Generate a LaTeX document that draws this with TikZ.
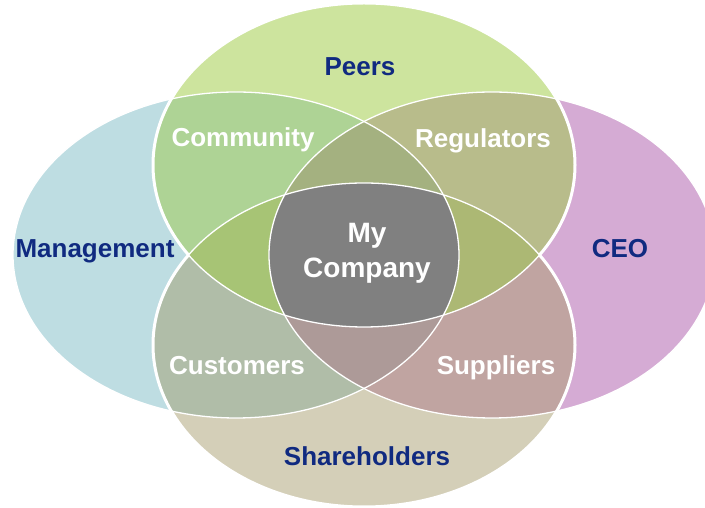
\documentclass[tikz,border=0pt]{standalone}
\usepackage{fontspec}
\setmainfont{Liberation Sans}

\definecolor{peersfill}{RGB}{205,228,158}
\definecolor{mgmtfill}{RGB}{190,221,226}
\definecolor{ceofill}{RGB}{213,171,212}
\definecolor{sharefill}{RGB}{212,207,184}
\definecolor{commfill}{RGB}{174,211,149}
\definecolor{regfill}{RGB}{184,188,139}
\definecolor{custfill}{RGB}{176,189,168}
\definecolor{suppfill}{RGB}{192,164,161}
\definecolor{topfill}{RGB}{164,177,128}
\definecolor{leftfill}{RGB}{167,196,117}
\definecolor{rightfill}{RGB}{172,184,116}
\definecolor{botfill}{RGB}{173,154,152}
\definecolor{corefill}{RGB}{128,128,128}
\definecolor{labelblue}{RGB}{16,42,128}

% the four sets
\newcommand{\peersset}{(364,343) ellipse [x radius=211, y radius=162]}
\newcommand{\shareset}{(364,163) ellipse [x radius=211, y radius=162]}
\newcommand{\mgmtset}{(236,253) ellipse [x radius=223, y radius=163]}
\newcommand{\ceoset}{(492,253) ellipse [x radius=223, y radius=163]}

\begin{document}
\begin{tikzpicture}[x=1pt,y=1pt]
        \tikzstyle{every node}=[font=\fontsize{26}{30}\selectfont\bfseries, inner sep=0pt, anchor=base]
        \tikzstyle{setlabel}=[text=labelblue]
        \tikzstyle{partlabel}=[text=white]
        \tikzstyle{rim}=[draw=white, line width=1.3]

        \useasboundingbox (0,0) rectangle (705,508);

        \fill[mgmtfill] \mgmtset;
        \fill[ceofill] \ceoset;
        \fill[peersfill] \peersset;
        \fill[sharefill] \shareset;

        % two at a time
        \begin{scope}
            \clip \peersset;
            \fill[commfill] \mgmtset;
            \fill[regfill] \ceoset;
        \end{scope}
        \begin{scope}
            \clip \shareset;
            \fill[custfill] \mgmtset;
            \fill[suppfill] \ceoset;
        \end{scope}

        % three at a time
        \begin{scope}
            \clip \mgmtset;
            \clip \ceoset;
            \fill[topfill] \peersset;
            \fill[botfill] \shareset;
        \end{scope}
        \begin{scope}
            \clip \peersset;
            \clip \shareset;
            \fill[leftfill] \mgmtset;
            \fill[rightfill] \ceoset;
        \end{scope}

        % all four
        \begin{scope}
            \clip \peersset;
            \clip \shareset;
            \clip \mgmtset;
            \fill[corefill] \ceoset;
        \end{scope}

        \draw[rim] \mgmtset;
        \draw[rim] \ceoset;
        \draw[rim] \peersset;
        \draw[rim] \shareset;
        \begin{scope}[even odd rule]
            \clip (0,0) rectangle (705,508) \shareset;
            \draw[rim, line width=3] \peersset;
        \end{scope}
        \begin{scope}[even odd rule]
            \clip (0,0) rectangle (705,508) \peersset;
            \draw[rim, line width=3] \shareset;
        \end{scope}

        \node (peers)    [setlabel] at (360,432) {Peers};
        \node (mgmt)     [setlabel] at (95,250)  {Management};
        \node (ceo)      [setlabel] at (620,250) {CEO};
        \node (share)    [setlabel] at (367,42)  {Shareholders};
        \node (comm)     [partlabel] at (243,361) {Community};
        \node (reg)      [partlabel] at (483,360) {Regulators};
        \node (cust)     [partlabel] at (237,133) {Customers};
        \node (supp)     [partlabel] at (496,133) {Suppliers};
        \node (company)  [partlabel, anchor=center, align=center,
                          font=\fontsize{28}{35}\selectfont\bfseries] at (367,255) {My\\Company};

\end{tikzpicture}
\end{document}
